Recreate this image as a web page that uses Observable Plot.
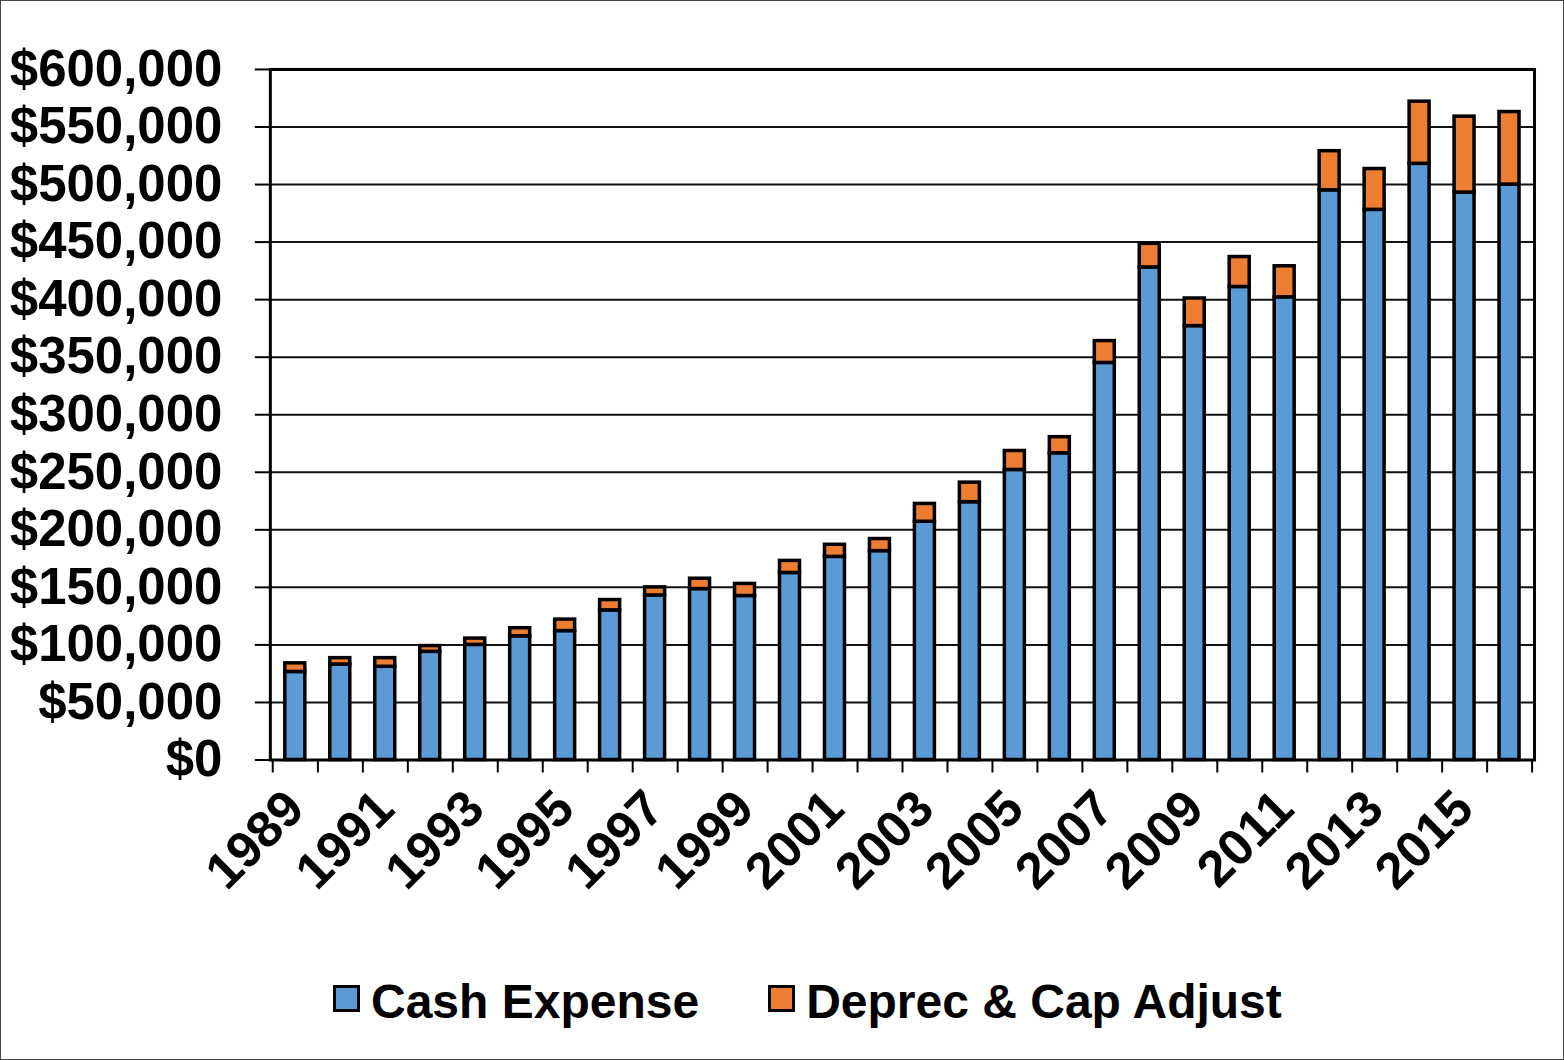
<!DOCTYPE html>
<html>
<head>
<meta charset="utf-8">
<script src="https://cdn.jsdelivr.net/npm/d3@7"></script>
<script src="https://cdn.jsdelivr.net/npm/@observablehq/plot@0.6"></script>
<style>
  html, body { margin: 0; padding: 0; background: #fff; }
  #wrap { position: relative; width: 1564px; height: 1060px; box-sizing: border-box; border: 1px solid #444; overflow: hidden; font-family: "Liberation Sans", Arial, sans-serif; }
  #chart { position: absolute; left: -1px; top: -1px; }
  #legend { position: absolute; top: 973px; left: 332px; display: flex; justify-content: flex-start; align-items: center; font-weight: bold; font-size: 48px; color: #000; white-space: nowrap; }
  .item { display: flex; align-items: center; }
  .sw { width: 21px; height: 21px; border: 3px solid #000; margin-right: 11px; position: relative; top: -3px; }
</style>
</head>
<body>
<div id="wrap">
  <div id="chart"></div>
  <div id="legend"></div>
</div>
<script>
const years = [1989,1990,1991,1992,1993,1994,1995,1996,1997,1998,1999,2000,2001,2002,2003,2004,2005,2006,2007,2008,2009,2010,2011,2012,2013,2014,2015,2016];
const cashExpense = [76500,83000,81000,94000,100000,107500,112000,130000,143000,148500,142500,162500,176500,181500,207000,224000,252000,266500,345000,428000,377000,411000,402000,495000,478000,518000,493000,500000];
const deprecCapAdjust = [7500,5500,7500,5000,5500,7000,10000,9000,7000,9000,10500,10500,10500,10500,15500,17000,16500,14000,19000,20500,24000,26000,27000,34000,35500,54000,66000,63000];
const seriesNames = ["Cash Expense", "Deprec & Cap Adjust"];
const seriesColors = ["#5B9BD5", "#ED7D31"];
const yTicks = [0,50000,100000,150000,200000,250000,300000,350000,400000,450000,500000,550000,600000];
const labelYears = [1989,1991,1993,1995,1997,1999,2001,2003,2005,2007,2009,2011,2013,2015];

const table = [];
years.forEach((yr, i) => {
  table.push({year: yr, series: seriesNames[0], value: cashExpense[i]});
  table.push({year: yr, series: seriesNames[1], value: deprecCapAdjust[i]});
});

const W = 1564, ML = 270, MR = 29;
const step = (W - ML - MR) / years.length;

const chart = Plot.plot({
  width: W,
  height: 960,
  marginLeft: ML,
  marginRight: MR,
  marginTop: 69,
  marginBottom: 200,
  style: {fontFamily: "'Liberation Sans', Arial, sans-serif", fontWeight: "bold", color: "#000", background: "transparent"},
  x: {type: "band", domain: years, paddingInner: 0.56, paddingOuter: 0.28, align: 0.5, label: null},
  y: {domain: [0, 600000], label: null},
  color: {domain: seriesNames, range: seriesColors},
  marks: [
    Plot.gridY(yTicks, {stroke: "#111", strokeOpacity: 1, strokeWidth: 2}),
    Plot.barY(table, {x: "year", y: "value", fill: "series", stroke: "#000", strokeWidth: 3.5}),
    Plot.frame({stroke: "#000", strokeWidth: 3}),
    Plot.axisY(yTicks, {tickSize: 15, tickPadding: 33, fontSize: 51, fontWeight: "bold", tickFormat: d3.format("$,"), strokeWidth: 2, label: null}),
    Plot.axisX(years, {tickSize: 13, dx: step / 2, tickFormat: () => "", strokeWidth: 2, label: null}),
    Plot.axisX([years[0]], {tickSize: 13, dx: -step / 2, tickFormat: () => "", strokeWidth: 2, label: null}),
    Plot.axisX(labelYears, {tickSize: 0, tickPadding: 40, tickRotate: -45, fontSize: 51, fontWeight: "bold", tickFormat: d => String(d), label: null})
  ]
});
document.getElementById("chart").appendChild(chart);

const legend = document.getElementById("legend");
seriesNames.forEach((name, i) => {
  const it = document.createElement("div");
  it.className = "item";
  it.style.marginRight = i === 0 ? "69px" : "0";
  const sw = document.createElement("div");
  sw.className = "sw";
  sw.style.background = seriesColors[i];
  const tx = document.createElement("span");
  tx.textContent = name;
  it.appendChild(sw);
  it.appendChild(tx);
  legend.appendChild(it);
});
</script>
</body>
</html>
